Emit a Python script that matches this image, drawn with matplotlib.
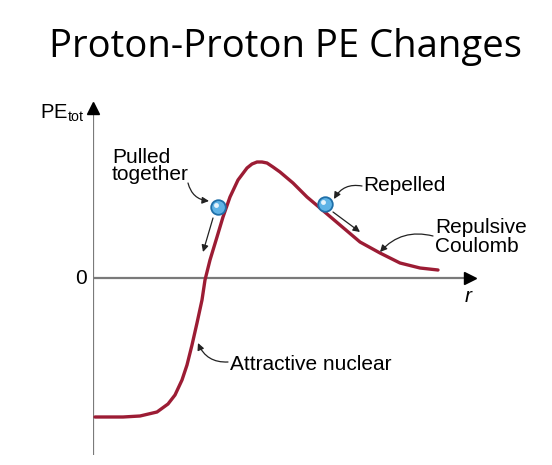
import numpy as np
import matplotlib.pyplot as plt

# PE_tot vs r (arbitrary units)
r_vals = [0.00, 0.15, 0.28, 0.45, 0.62, 0.73, 0.80, 0.87, 0.92, 0.97, 1.02,
          1.07, 1.10, 1.15, 1.22, 1.28, 1.35, 1.43, 1.52, 1.57, 1.62, 1.67, 1.72,
          1.78, 1.85, 1.98, 2.12, 2.25, 2.45, 2.65, 2.85, 3.05, 3.25, 3.43]
pe_vals = [-1.39, -1.39, -1.39, -1.38, -1.34, -1.26, -1.17, -1.02, -0.87, -0.67, -0.45,
           -0.22, -0.02, 0.18, 0.41, 0.61, 0.81, 0.98, 1.10, 1.14, 1.16, 1.16, 1.15,
           1.11, 1.06, 0.95, 0.81, 0.70, 0.53, 0.36, 0.25, 0.15, 0.10, 0.08]

# proton positions on the curve
ball_r = [1.23, 2.30]
ball_pe = [0.71, 0.74]

labels = ["Pulled\ntogether", "Repelled", "Repulsive\nCoulomb", "Attractive nuclear"]
title = "Proton-Proton PE Changes"

plt.rcParams['font.family'] = ['Liberation Sans', 'DejaVu Sans']
plt.rcParams['mathtext.fontset'] = 'custom'
plt.rcParams['mathtext.rm'] = 'Liberation Sans'

fig = plt.figure(figsize=(5.52, 4.65), dpi=100)
fig.text(0.518, 0.90, title, ha='center', va='center', fontsize=27.5,
         family=['Open Sans', 'DejaVu Sans'])

ax = fig.add_axes([93 / 552, 5 / 465, 387 / 552, 365 / 465])
ax.set_xlim(-0.02, 3.85)
ax.set_ylim(-1.82, 1.83)
ax.axis('off')

axis_col = '#7a7a7a'
ax.plot([-0.02, -0.02], [-1.77, 1.66], color=axis_col, lw=1.6, solid_capstyle='butt')
ax.plot([-0.02, 3.72], [0, 0], color=axis_col, lw=1.6, solid_capstyle='butt')
ax.plot([-0.02], [1.70], marker='^', color='black', ms=8, clip_on=False)
ax.plot([3.75], [0], marker='>', color='black', ms=8, clip_on=False)

ax.plot(r_vals, pe_vals, color='#9c1c34', lw=2.4, solid_capstyle='round',
        solid_joinstyle='round')

ax.plot(ball_r, ball_pe, 'o', ms=10.5, mfc='#5fb3e6', mec='#1f6fa8', mew=1.3, zorder=5)
ax.plot([x - 0.025 for x in ball_r], [y + 0.025 for y in ball_pe], 'o', ms=3.5,
        mfc='white', mec='none', alpha=0.85, zorder=6)

fs = 15
ax.text(0.17, 1.12, labels[0], ha='left', va='center', fontsize=fs, linespacing=0.92)
ax.text(2.68, 0.93, labels[1], ha='left', va='center', fontsize=fs)
ax.text(3.40, 0.41, labels[2], ha='left', va='center', fontsize=fs,
        linespacing=1.05, clip_on=False)
ax.text(1.35, -0.86, labels[3], ha='left', va='center', fontsize=fs)
ax.text(-0.08, 0.0, "0", ha='right', va='center', fontsize=fs)
ax.text(3.73, -0.18, "r", ha='center', va='center', fontsize=fs, style='italic')
ax.text(-0.55, 1.65, r"PE$_{\mathrm{tot}}$", ha='left', va='center', fontsize=14.5,
        clip_on=False)

lead = dict(arrowstyle='-|>', color='#222222', lw=0.9, mutation_scale=10,
            shrinkA=0, shrinkB=0)
ax.annotate("", xy=(1.14, 0.77), xytext=(0.93, 0.95),
            arrowprops=dict(lead, connectionstyle="arc3,rad=0.35"))
ax.annotate("", xy=(2.39, 0.79), xytext=(2.67, 0.92),
            arrowprops=dict(lead, connectionstyle="arc3,rad=0.35"))
ax.annotate("", xy=(2.85, 0.26), xytext=(3.38, 0.42),
            arrowprops=dict(lead, connectionstyle="arc3,rad=0.3"))
ax.annotate("", xy=(1.03, -0.65), xytext=(1.33, -0.84),
            arrowprops=dict(lead, connectionstyle="arc3,rad=-0.35"))
# motion arrows from the protons
ax.annotate("", xy=(1.08, 0.26), xytext=(1.18, 0.60), arrowprops=lead)
ax.annotate("", xy=(2.65, 0.46), xytext=(2.38, 0.66), arrowprops=lead)

fig.savefig("out.png", dpi=100)
